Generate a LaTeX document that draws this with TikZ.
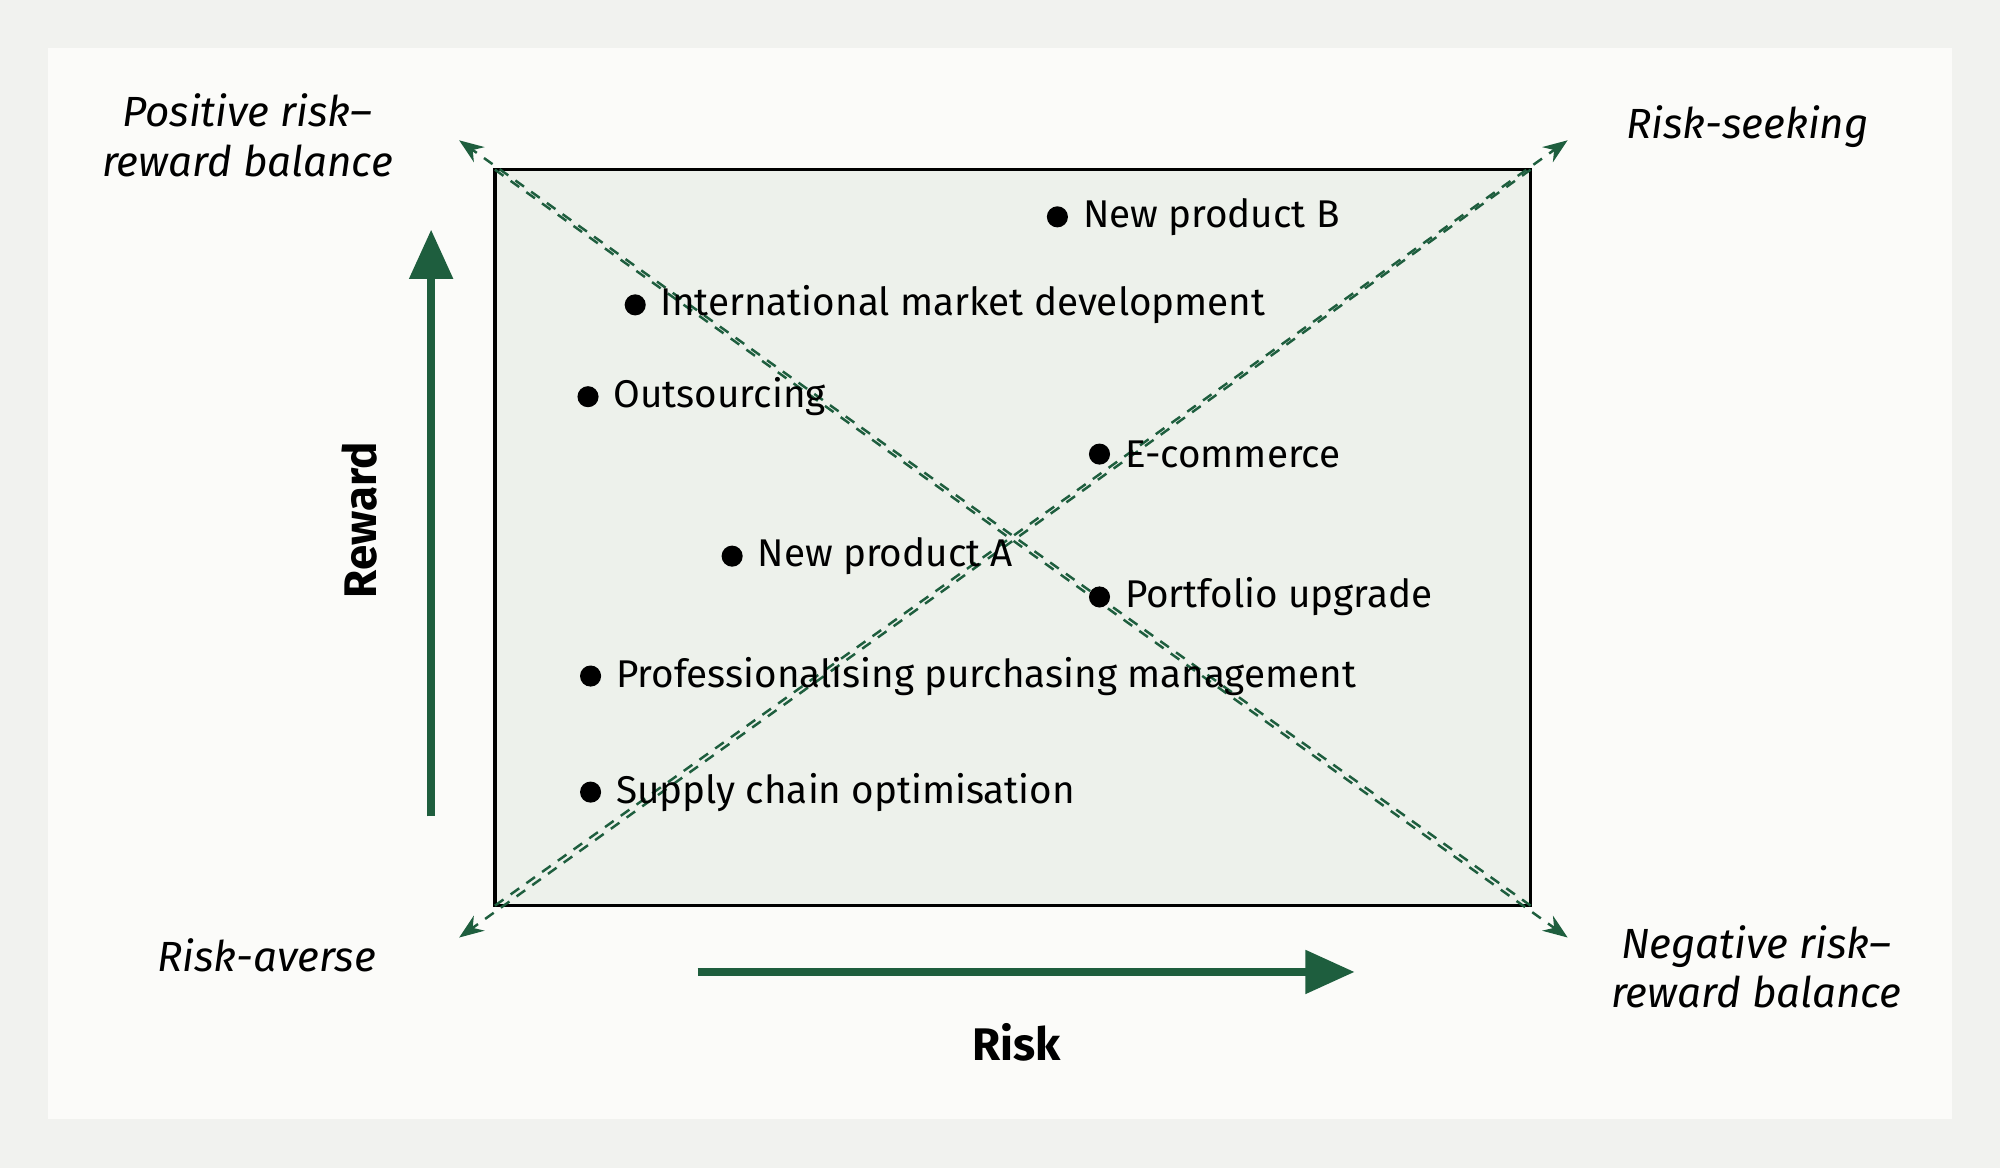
\documentclass[tikz,border=0pt]{standalone}
\usepackage{fontspec}
\setmainfont{Fira Sans}
\usetikzlibrary{arrows.meta,calc}
\definecolor{pagebg}{HTML}{F1F2EF}
\definecolor{panelbg}{HTML}{FBFBF9}
\definecolor{boxfill}{HTML}{EDF1EB}
\definecolor{axisgreen}{HTML}{1E5E3E}
\tikzset{
  item/.style = {right, font=\fontsize{11}{13}\selectfont, inner sep=2pt},
  corner/.style = {font=\fontsize{12}{14}\selectfont\itshape, align=center},
  diag/.style = {axisgreen, line width=0.7pt, dash pattern=on 3pt off 2.5pt, -{Stealth[length=7pt]}},
  axis/.style = {axisgreen, line width=2.2pt, -{Triangle[length=14pt,width=12pt]}}
}
\begin{document}
\begin{tikzpicture}[x=0.012755cm, y=-0.012755cm]
  \useasboundingbox (0,0) rectangle (1568,916);
  \fill[pagebg] (0,0) rectangle (1568,916);
  \fill[panelbg] (38,38) rectangle (1530,877);
  % matrix box
  \draw[fill=boxfill, line width=1pt] (388,133) rectangle (1200,710);
  \coordinate (tl) at (388,133);
  \coordinate (tr) at (1200,133);
  \coordinate (bl) at (388,710);
  \coordinate (br) at (1200,710);
  \coordinate (tlx) at (360,110);
  \coordinate (trx) at (1229,110);
  \coordinate (blx) at (360,735);
  \coordinate (brx) at (1229,735);
  % diagonals
  \draw[diag] (br) -- (tlx);
  \draw[diag] (tl) -- (brx);
  \draw[diag] (bl) -- (trx);
  \draw[diag] (tr) -- (blx);
  % axes
  \coordinate (rew0) at (338,640);
  \coordinate (rew1) at (338,180);
  \coordinate (risk0) at (547,762);
  \coordinate (risk1) at (1062,762);
  \draw[axis] (rew0) -- (rew1);
  \draw[axis] (risk0) -- (risk1);
  \node[rotate=90, font=\fontsize{13}{15}\selectfont\bfseries] (reward) at (282,408) {Reward};
  \node[font=\fontsize{13}{15}\selectfont\bfseries] (risk) at (797,817) {Risk};
  % corner labels
  \node[corner] (pos) at (194,106) {Positive risk–\\reward balance};
  \node[corner] (seek) at (1370,99) {Risk-seeking};
  \node[corner] (averse) at (209,749) {Risk-averse};
  \node[corner] (neg) at (1377,758) {Negative risk–\\reward balance};
  % items
  \foreach \name/\x/\y/\txt in {
    npb/829/170/{New product B},
    imd/498/239/{International market development},
    outs/461/311/{Outsourcing},
    ecom/862/356/{E-commerce},
    npa/574/436/{New product A},
    port/862/468/{Portfolio upgrade},
    ppm/463/530/{Professionalising purchasing management},
    scm/463/621/{Supply chain optimisation}} {
    \fill (\x,\y) circle (3pt);
    \node[item] (\name) at ($(\x,\y)+(14,0)$) {\txt};
  }
\end{tikzpicture}
\end{document}
